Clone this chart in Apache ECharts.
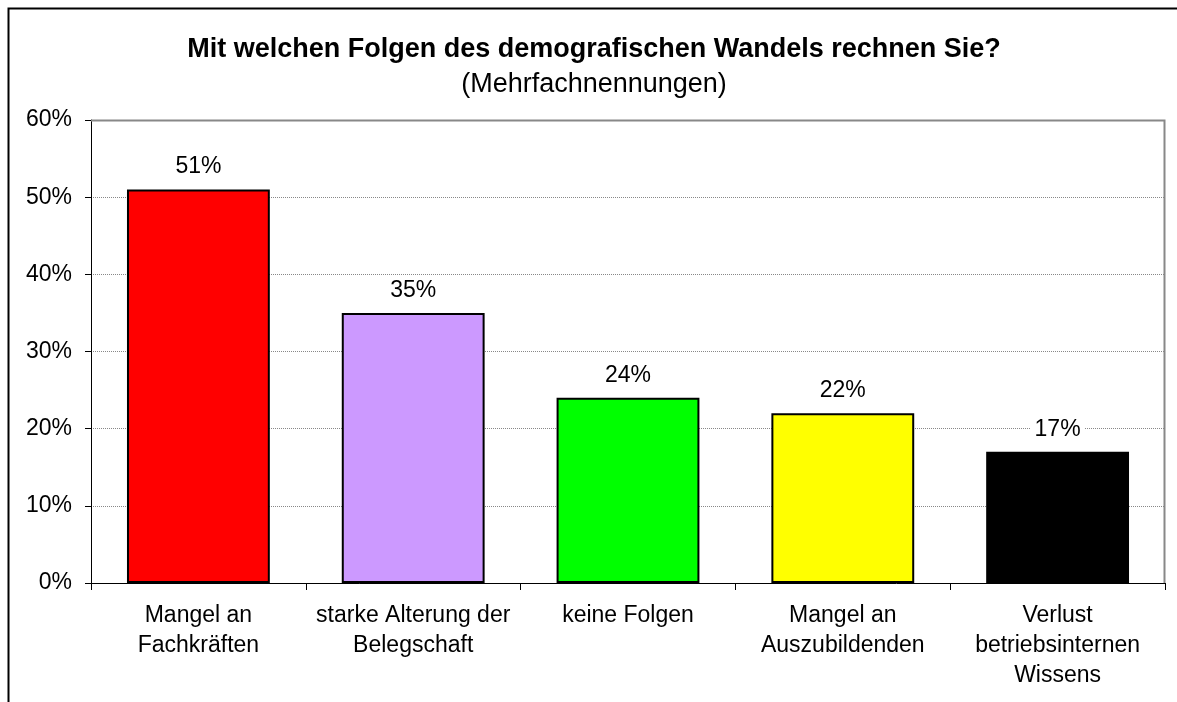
<!DOCTYPE html>
<html>
<head>
<meta charset="utf-8">
<script src="https://cdn.jsdelivr.net/npm/echarts@6/dist/echarts.min.js"></script>
<style>
  html, body { margin: 0; padding: 0; background: #fff; }
  #chart { width: 1177px; height: 702px; }
</style>
</head>
<body>
<div id="chart"></div>
<script>
const categories = [
  'Mangel an\nFachkräften',
  'starke Alterung der\nBelegschaft',
  'keine Folgen',
  'Mangel an\nAuszubildenden',
  'Verlust\nbetriebsinternen\nWissens'
];
const values = [51, 35, 24, 22, 17];
const barColors = ['#FF0000', '#CC99FF', '#00FF00', '#FFFF00', '#000000'];

const font = '"Liberation Sans", Arial, sans-serif';

const myChart = echarts.init(document.getElementById('chart'));
myChart.setOption({
  animation: false,
  backgroundColor: '#fff',
  title: {
    text: 'Mit welchen Folgen des demografischen Wandels rechnen Sie?',
    subtext: '(Mehrfachnennungen)',
    left: 589,
    textAlign: 'center',
    top: 31,
    itemGap: 8,
    textStyle: { fontFamily: font, fontSize: 27, fontWeight: 'bold', color: '#000' },
    subtextStyle: { fontFamily: font, fontSize: 27, color: '#000' }
  },
  graphic: [
    {
      type: 'rect',
      shape: { x: 8.5, y: 8.5, width: 1200, height: 720 },
      style: { fill: 'none', stroke: '#000', lineWidth: 2 },
      silent: true
    },
    {
      type: 'polyline',
      shape: { points: [[91, 120.5], [1164.5, 120.5], [1164.5, 583]] },
      style: { stroke: '#888', lineWidth: 2, fill: 'none' },
      z: 5,
      silent: true
    }
  ],
  grid: { left: 91, right: 12, top: 120, bottom: 119, containLabel: false },
  xAxis: {
    type: 'category',
    data: categories,
    axisLine: { show: true, lineStyle: { color: '#000', width: 1 } },
    axisTick: { show: true, alignWithLabel: false, length: 7, lineStyle: { color: '#000' } },
    axisLabel: {
      fontFamily: font, fontSize: 23, color: '#000', lineHeight: 30, margin: 18, interval: 0
    }
  },
  yAxis: {
    type: 'value',
    min: 0,
    max: 60,
    interval: 10,
    axisLine: { show: true, lineStyle: { color: '#000', width: 1 } },
    axisTick: { show: true, length: 6, lineStyle: { color: '#000' } },
    axisLabel: { fontFamily: font, fontSize: 23, color: '#000', margin: 19, formatter: '{value}%' },
    splitLine: { show: true, lineStyle: { color: '#888', type: [1, 1], width: 1 } }
  },
  series: [{
    type: 'bar',
    barWidth: '66.5%',
    data: values.map((v, i) => ({
      value: v,
      itemStyle: { color: barColors[i], borderColor: '#000', borderWidth: 2 }
    })),
    label: {
      show: true,
      position: 'top',
      distance: 8,
      formatter: '{c}%',
      fontFamily: font,
      fontSize: 23,
      color: '#000',
      backgroundColor: '#fff',
      padding: [4, 4, 3, 4]
    },
    z: 10
  }]
});
</script>
</body>
</html>
